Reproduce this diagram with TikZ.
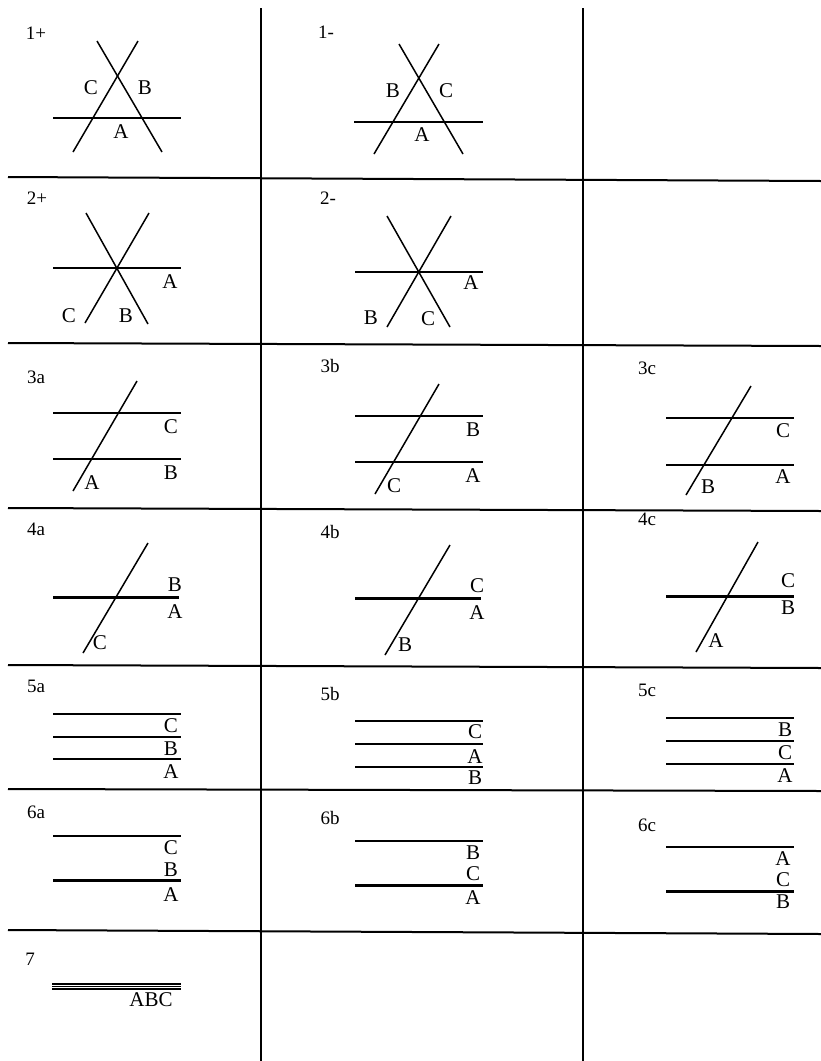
\documentclass[tikz,border=0pt]{standalone}
\usepackage{fontspec}
\setmainfont{Liberation Serif}
\usetikzlibrary{positioning}

\begin{document}
\begin{tikzpicture}[
  x=1pt, y=-1pt,
  sep/.style   ={line width=2pt},
  ray/.style   ={line width=1.5pt},
  heavy/.style ={line width=3pt},
  panel/.style ={inner sep=0pt, font=\fontsize{19}{19}\selectfont},
  lbl/.style   ={inner sep=0pt, font=\fontsize{21}{21}\selectfont},
]
\useasboundingbox (0,0) rectangle (821,1061);

% ----- Grid -----
\draw[sep] (261,8) -- (261,1061);
\draw[sep] (583,8) -- (583,1061);
\draw[sep] (8,177) -- (821,181);
\draw[sep] (8,343) -- (821,346);
\draw[sep] (8,508) -- (821,511);
\draw[sep] (8,665) -- (821,668);
\draw[sep] (8,789) -- (821,791);
\draw[sep] (8,930) -- (821,934);

% ----- Row 1 -----
\node[panel] (p1plus) at (36,33) {1+};
\draw[ray] (97,41) -- (162,152);
\draw[ray] (138,41) -- (73,152);
\draw[ray] (53,118) -- (181,118);
\node[lbl] (p1pC) at (91,88) {C};
\node[lbl] (p1pB) at (145,88) {B};
\node[lbl] (p1pA) at (121,132) {A};

\node[panel] (p1minus) at (326,32) {1-};
\draw[ray] (399,44) -- (463,154);
\draw[ray] (439,44) -- (374,154);
\draw[ray] (354,122) -- (483,122);
\node[lbl] (p1mB) at (393,91) {B};
\node[lbl] (p1mC) at (446,91) {C};
\node[lbl] (p1mA) at (422,135) {A};

% ----- Row 2 -----
\node[panel] (p2plus) at (37,198) {2+};
\draw[ray] (86,213) -- (148,324);
\draw[ray] (149,213) -- (85,323);
\draw[ray] (53,268) -- (181,268);
\node[lbl] (p2pA) at (170,282) {A};
\node[lbl] (p2pC) at (69,316) {C};
\node[lbl] (p2pB) at (126,316) {B};

\node[panel] (p2minus) at (328,198) {2-};
\draw[ray] (387,216) -- (450,327);
\draw[ray] (451,216) -- (387,327);
\draw[ray] (355,272) -- (483,272);
\node[lbl] (p2mA) at (471,283) {A};
\node[lbl] (p2mB) at (371,318) {B};
\node[lbl] (p2mC) at (428,319) {C};

% ----- Row 3 -----
\node[panel] (p3a) at (36,377) {3a};
\draw[ray] (137,381) -- (73,491);
\draw[ray] (53,413) -- (181,413);
\draw[ray] (53,459) -- (181,459);
\node[lbl] (p3aC) at (171,427) {C};
\node[lbl] (p3aB) at (171,473) {B};
\node[lbl] (p3aA) at (92,483) {A};

\node[panel] (p3b) at (330,366) {3b};
\draw[ray] (439,384) -- (375,494);
\draw[ray] (355,416) -- (483,416);
\draw[ray] (355,462) -- (483,462);
\node[lbl] (p3bB) at (473,430) {B};
\node[lbl] (p3bA) at (473,476) {A};
\node[lbl] (p3bC) at (394,486) {C};

\node[panel] (p3c) at (647,368) {3c};
\draw[ray] (751,386) -- (686,495);
\draw[ray] (666,418) -- (794,418);
\draw[ray] (666,465) -- (794,465);
\node[lbl] (p3cC) at (783,431) {C};
\node[lbl] (p3cA) at (783,477) {A};
\node[lbl] (p3cB) at (708,487) {B};

% ----- Row 4 -----
\node[panel] (p4a) at (36,529) {4a};
\draw[ray] (148,543) -- (83,653);
\draw[heavy] (53,597) -- (179,597);
\node[lbl] (p4aB) at (175,585) {B};
\node[lbl] (p4aA) at (175,612) {A};
\node[lbl] (p4aC) at (100,643) {C};

\node[panel] (p4b) at (330,532) {4b};
\draw[ray] (450,545) -- (385,655);
\draw[heavy] (355,598) -- (481,598);
\node[lbl] (p4bC) at (477,586) {C};
\node[lbl] (p4bA) at (477,613) {A};
\node[lbl] (p4bB) at (405,645) {B};

\node[panel] (p4c) at (647,519) {4c};
\draw[ray] (758,542) -- (696,652);
\draw[heavy] (666,596) -- (794,596);
\node[lbl] (p4cC) at (788,581) {C};
\node[lbl] (p4cB) at (788,608) {B};
\node[lbl] (p4cA) at (716,641) {A};

% ----- Row 5 -----
\node[panel] (p5a) at (36,686) {5a};
\draw[ray] (53,714) -- (181,714);
\draw[ray] (53,737) -- (181,737);
\draw[ray] (53,759) -- (181,759);
\node[lbl] (p5aC) at (171,726) {C};
\node[lbl] (p5aB) at (171,749) {B};
\node[lbl] (p5aA) at (171,772) {A};

\node[panel] (p5b) at (330,694) {5b};
\draw[ray] (355,721) -- (483,721);
\draw[ray] (355,744) -- (483,744);
\draw[ray] (355,767) -- (483,767);
\node[lbl] (p5bC) at (475,732) {C};
\node[lbl] (p5bA) at (475,757) {A};
\node[lbl] (p5bB) at (475,778) {B};

\node[panel] (p5c) at (647,690) {5c};
\draw[ray] (666,718) -- (794,718);
\draw[ray] (666,741) -- (794,741);
\draw[ray] (666,764) -- (794,764);
\node[lbl] (p5cB) at (785,730) {B};
\node[lbl] (p5cC) at (785,753) {C};
\node[lbl] (p5cA) at (785,776) {A};

% ----- Row 6 -----
\node[panel] (p6a) at (36,812) {6a};
\draw[ray] (53,836) -- (181,836);
\draw[heavy] (53,880) -- (181,880);
\node[lbl] (p6aC) at (171,848) {C};
\node[lbl] (p6aB) at (171,870) {B};
\node[lbl] (p6aA) at (171,895) {A};

\node[panel] (p6b) at (330,818) {6b};
\draw[ray] (355,841) -- (483,841);
\draw[heavy] (355,885) -- (483,885);
\node[lbl] (p6bB) at (473,853) {B};
\node[lbl] (p6bC) at (473,874) {C};
\node[lbl] (p6bA) at (473,898) {A};

\node[panel] (p6c) at (647,825) {6c};
\draw[ray] (666,847) -- (794,847);
\draw[heavy] (666,891) -- (794,891);
\node[lbl] (p6cA) at (783,859) {A};
\node[lbl] (p6cC) at (783,880) {C};
\node[lbl] (p6cB) at (783,902) {B};

% ----- Row 7 -----
\node[panel] (p7) at (30,959) {7};
\draw[ray] (52,984) -- (181,984);
\draw[ray] (52,986.5) -- (181,986.5);
\draw[ray] (52,989) -- (181,989);
\node[lbl] (p7ABC) at (151,1000) {ABC};

\end{tikzpicture}
\end{document}
